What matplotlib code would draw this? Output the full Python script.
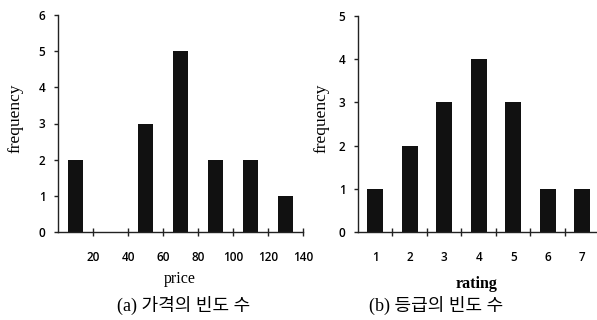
import matplotlib
matplotlib.use("Agg")
import matplotlib.pyplot as plt
from matplotlib.ticker import FixedLocator

# data
price_bins = [10, 30, 50, 70, 90, 110, 130]
price_freq = [2, 0, 3, 5, 2, 2, 1]
price_ticks = [20, 40, 60, 80, 100, 120, 140]

rating_vals = [1, 2, 3, 4, 5, 6, 7]
rating_freq = [1, 2, 3, 4, 3, 1, 1]

W, H = 597, 320
fig = plt.figure(figsize=(W / 100, H / 100), dpi=100)
fig.patch.set_facecolor("white")

tick_font = dict(family=["Open Sans", "DejaVu Sans"], weight="semibold", size=8.5)
serif = ["Liberation Serif", "DejaVu Serif"]
cap_fam = ["Liberation Serif", "Noto Sans CJK KR"]

def px_axes(x0, x1, ytop, ybot):
    return fig.add_axes([x0 / W, (H - ybot) / H, (x1 - x0) / W, (ybot - ytop) / H])

def style(ax):
    for s in ("top", "right"):
        ax.spines[s].set_visible(False)
    for s in ("left", "bottom"):
        ax.spines[s].set_color("#222222")
        ax.spines[s].set_linewidth(1.0)
    ax.tick_params(axis="y", direction="out", length=3, width=1, color="#222222", pad=6)
    ax.set_facecolor("white")

# left panel
ax1 = px_axes(58, 303, 15, 232)
ax1.bar(price_bins, price_freq, width=8.6, color="#111111")
ax1.set_xlim(0, 140)
ax1.set_ylim(0, 6)
ax1.set_yticks(range(0, 7))
ax1.set_xticks(price_ticks)
ax1.set_xticklabels([str(t) for t in price_ticks])
style(ax1)
ax1.tick_params(axis="x", direction="inout", length=6, width=1, color="#222222", pad=11)
for lab in ax1.get_xticklabels() + ax1.get_yticklabels():
    lab.set(**tick_font)

# right panel
ax2 = px_axes(358, 597, 16, 232)
ax2.bar(rating_vals, rating_freq, width=0.46, color="#111111")
ax2.set_xlim(0.5, 7.43)
ax2.set_ylim(0, 5)
ax2.set_yticks(range(0, 6))
ax2.set_xticks(rating_vals)
ax2.xaxis.set_minor_locator(FixedLocator([v + 0.5 for v in rating_vals[:-1]]))
style(ax2)
ax2.tick_params(axis="x", which="major", length=0, pad=14)
ax2.tick_params(axis="x", which="minor", direction="inout", length=6, width=1, color="#222222")
for lab in ax2.get_xticklabels() + ax2.get_yticklabels():
    lab.set(**tick_font)

# axis labels
fig.text(16 / W, 1 - 118 / H, "frequency", rotation=90, ha="center", va="center",
         family=serif, size=12.5)
fig.text(321 / W, 1 - 118 / H, "frequency", rotation=90, ha="center", va="center",
         family=serif, size=12.5)
fig.text(180 / W, 1 - 279 / H, "price", ha="center", va="center", family=serif, size=11.5)
fig.text(477 / W, 1 - 284 / H, "rating", ha="center", va="center", family=serif, size=11.5,
         weight="bold")

# captions
fig.text(184 / W, 1 - 305 / H, "(a) 가격의 빈도 수", ha="center", va="center",
         family=cap_fam, size=13)
fig.text(436 / W, 1 - 305 / H, "(b) 등급의 빈도 수", ha="center", va="center",
         family=cap_fam, size=13)

fig.savefig("out.png", dpi=100)
